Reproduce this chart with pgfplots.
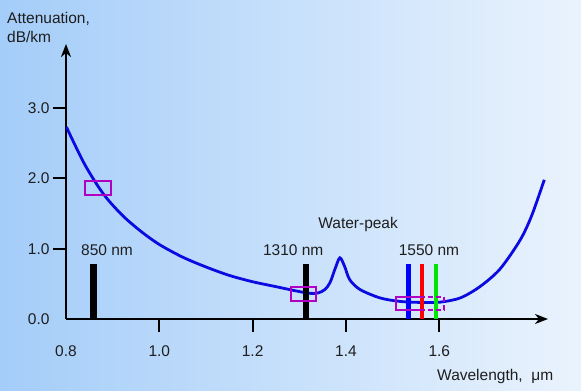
\documentclass[border=0pt]{standalone}
\usepackage{pgfplots}
\pgfplotsset{compat=1.18}
\usepackage{fontspec}
\setmainfont{Liberation Sans}
\usetikzlibrary{arrows.meta}
\definecolor{bgL}{RGB}{164,205,249}
\definecolor{bgR}{RGB}{234,243,253}
\definecolor{curveblue}{RGB}{10,10,225}
\definecolor{rectmag}{RGB}{176,0,196}
\definecolor{txt}{RGB}{30,30,30}
\begin{document}
\begin{tikzpicture}
\fill[left color=bgL, right color=bgR] (0,0) rectangle (581bp,391bp);
\begin{axis}[
  at={(66bp,72bp)}, anchor=origin,
  width=482bp, height=275bp, scale only axis,
  xmin=0.8, xmax=1.833, ymin=0, ymax=3.912,
  axis lines=left,
  axis line style={line width=2.6bp, black, -{Stealth[length=13bp,width=10bp,inset=4bp]}},
  tick align=outside,
  major tick length=13bp,
  tick style={line width=2bp, black},
  xtick={1.0,1.2,1.4,1.6},
  ytick={1,2,3},
  extra x ticks={0.8},
  extra y ticks={0},
  extra tick style={tick style={draw=none}},
  tick label style={font=\fontsize{15.5bp}{18bp}\selectfont, text=txt},
  xticklabel style={yshift=-10bp},
  /pgf/number format/.cd, fixed, fixed zerofill, precision=1, assume math mode=true,
]
% attenuation curve
\addplot[curveblue, line width=2.8bp, smooth] coordinates {
(0.801,2.73) (0.84,2.20) (0.88,1.78) (0.92,1.48) (0.96,1.25) (1.00,1.06) (1.05,0.88)
(1.10,0.74) (1.15,0.62) (1.20,0.53) (1.25,0.46) (1.30,0.39) (1.323,0.365) (1.340,0.37)
(1.355,0.42) (1.366,0.52) (1.377,0.72) (1.387,0.87) (1.397,0.75) (1.408,0.56) (1.430,0.42)
(1.473,0.30) (1.516,0.25) (1.565,0.235) (1.602,0.24) (1.645,0.30) (1.687,0.46) (1.730,0.71)
(1.773,1.12) (1.798,1.47) (1.825,1.98)
};
% wavelength bars
\addplot[black, line width=7bp] coordinates {(0.859,0) (0.859,0.78)};
\addplot[black, line width=6.5bp] coordinates {(1.314,0) (1.314,0.78)};
\addplot[blue, line width=5bp] coordinates {(1.533,0) (1.533,0.78)};
\addplot[red, line width=4.5bp] coordinates {(1.563,0) (1.563,0.78)};
\addplot[green!90!black, line width=4.5bp] coordinates {(1.593,0) (1.593,0.78)};
% rectangles
\addplot[rectmag, line width=2bp] coordinates {(0.841,1.764) (0.896,1.764) (0.896,1.963) (0.841,1.963)} -- cycle;
\addplot[rectmag, line width=2bp] coordinates {(1.282,0.256) (1.336,0.256) (1.336,0.455) (1.282,0.455)} -- cycle;
\addplot[rectmag, line width=2bp] coordinates {(1.559,0.313) (1.507,0.313) (1.507,0.128) (1.559,0.128)};
\addplot[rectmag, line width=2bp, dash pattern=on 5bp off 3bp] coordinates {(1.559,0.313) (1.610,0.313) (1.610,0.128) (1.559,0.128)};
% labels
\node[text=txt, font=\fontsize{15.5bp}{18bp}\selectfont] at (axis cs:0.888,0.98) {850 nm};
\node[text=txt, font=\fontsize{15.5bp}{18bp}\selectfont] at (axis cs:1.287,0.98) {1310 nm};
\node[text=txt, font=\fontsize{15.5bp}{18bp}\selectfont] at (axis cs:1.426,1.34) {Water-peak};
\node[text=txt, font=\fontsize{15.5bp}{18bp}\selectfont] at (axis cs:1.578,0.98) {1550 nm};
\end{axis}
\node[anchor=base west, inner sep=0pt, text=txt, font=\fontsize{15.5bp}{19bp}\selectfont] at (7bp,367bp) {Attenuation,};
\node[anchor=base west, inner sep=0pt, text=txt, font=\fontsize{15.5bp}{19bp}\selectfont] at (7bp,348bp) {dB/km};
\node[anchor=base west, inner sep=0pt, text=txt, font=\fontsize{15.5bp}{19bp}\selectfont] at (437bp,11bp) {Wavelength,\ \ μm};
\pgfresetboundingbox
\useasboundingbox (0,0) rectangle (581bp,391bp);
\end{tikzpicture}
\end{document}
